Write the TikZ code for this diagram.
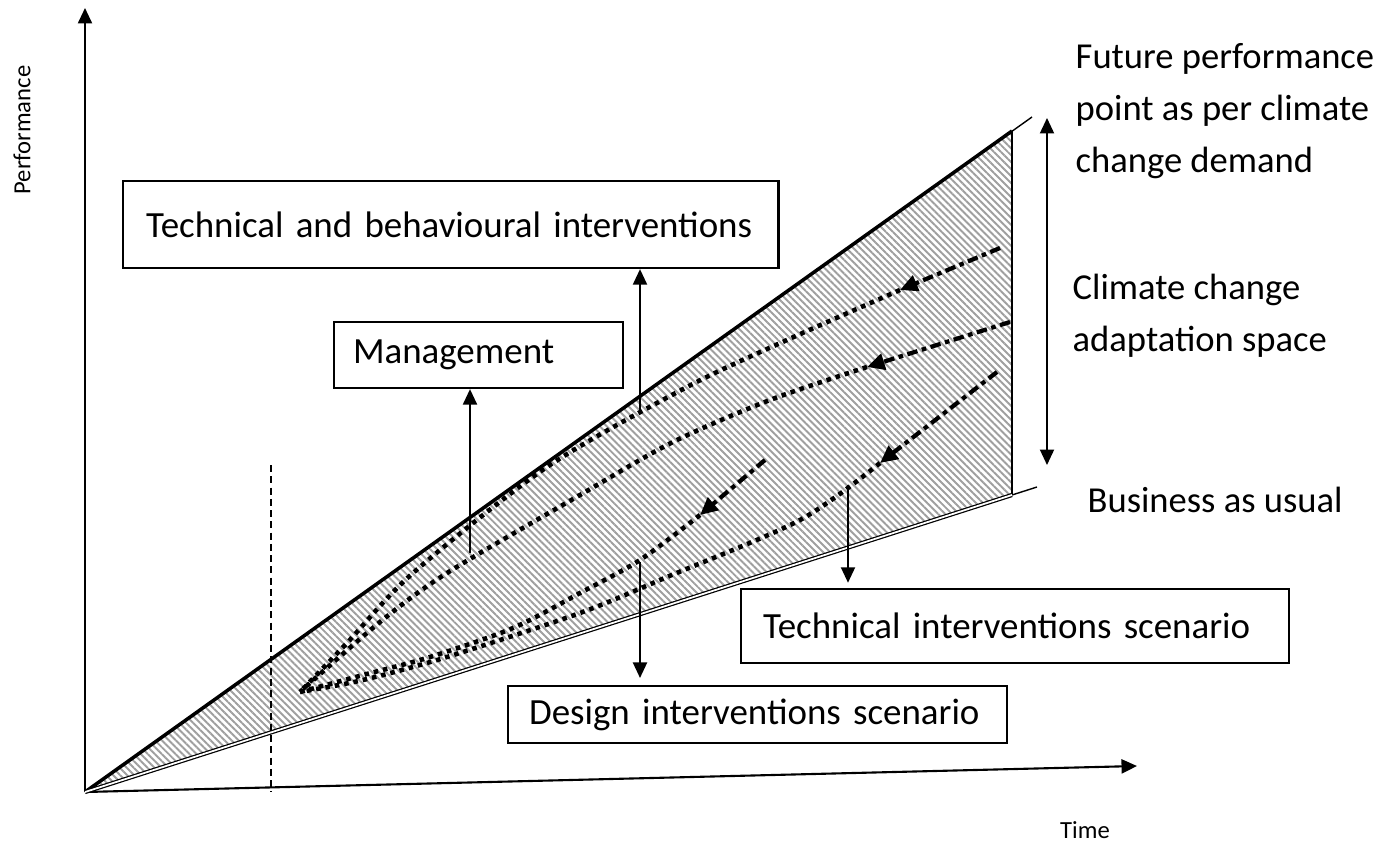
\documentclass[tikz,border=0pt]{standalone}
\usepackage{fontspec}
\setmainfont{Carlito}
\usetikzlibrary{arrows.meta,patterns.meta}

\begin{document}
\begin{tikzpicture}[x=0.01cm, y=-0.01cm, >={Triangle[length=4.4pt,width=4pt]},
  axis/.style={line width=0.6pt, ->},
  label/.style={font=\fontsize{10.4}{14.8}\selectfont, align=left, inner sep=0pt},
  small/.style={font=\fontsize{7}{8}\selectfont, inner sep=0pt},
  box/.style={draw, line width=0.6pt, anchor=north west, align=left, inner ysep=0pt, font=\fontsize{10.5}{12}\selectfont},
  pointer/.style={line width=0.5pt, ->},
  trail/.style={line width=1.3pt, dash pattern=on 1.3pt off 1.4pt},
  lead/.style={line width=1.2pt, dash pattern=on 3pt off 1.3pt on 1.3pt off 1.3pt, ->, >={Triangle[length=5pt,width=4.6pt]}},
]
\useasboundingbox (0,0) rectangle (1385,843);

% axes
\coordinate (o) at (85,792);
\coordinate (ytip) at (85,8);
\coordinate (xtip) at (1137,766);
\draw[axis] (o) -- (ytip);
\draw[axis] (o) -- (xtip);
\node[small, rotate=90] (perf) at (22,130) {Performance};
\node[small] (time) at (1085,830) {Time};

% adaptation space between the two pathways
\coordinate (ftop) at (1012,131);
\coordinate (fbot) at (1012,495);
\fill[pattern={Lines[angle=-45, distance=1.4pt, line width=0.55pt]}, pattern color=gray!75] (o) -- (ftop) -- (fbot) -- cycle;
\draw[line width=0.4pt] (o) -- (1032,117);
\draw[line width=1pt] (o) -- (ftop);
\draw[line width=0.5pt] (ftop) -- (fbot);
\draw[line width=0.4pt] (fbot) -- (1037,487);
\draw[double, line width=0.35pt, double distance=0.5pt] (o) -- (fbot);
\draw[line width=0.5pt, dash pattern=on 2pt off 1.2pt] (271,465) -- (271,792);

% range arrow and labels on the right
\coordinate (top) at (1047,118);
\coordinate (bau) at (1047,465);
\draw[pointer, <->] (top) -- (bau);
\node[label, anchor=west] (future) at (1075,111) {Future performance\\point as per climate\\change demand};
\node[label, anchor=west] (space) at (1072,316) {Climate change\\adaptation space};
\node[label, anchor=west] (usual) at (1087,500) {Business as usual};

% scenario pathways back to the hub
\coordinate (hub) at (300,692);
\coordinate (a1) at (1000,248); \coordinate (a2) at (900,290);
\coordinate (b1) at (1010,322); \coordinate (b2) at (867,367);
\coordinate (c1) at (765,460);  \coordinate (c2) at (700,515);
\coordinate (d1) at (997,372);  \coordinate (d2) at (880,463);
\draw[lead] (a1) -- (a2);
\draw[lead] (b1) -- (b2);
\draw[lead] (c1) -- (c2);
\draw[lead] (d1) -- (d2);
\draw[trail] plot[smooth] coordinates {(a2) (787,340) (687,387) (547,467) (413,573) (347,643) (hub)};
\draw[trail] plot[smooth] coordinates {(b2) (770,400) (673,442) (580,495) (447,573) (380,622) (hub)};
\draw[trail] plot[smooth] coordinates {(c2) (640,560) (580,593) (513,628) (430,657) (363,675) (hub)};
\draw[trail] plot[smooth] coordinates {(d2) (800,520) (667,577) (580,613) (447,657) (363,680) (hub)};

% boxes
\node[box, text width=6.09cm, inner xsep=0.23cm, minimum height=0.87cm] (tbbox) at (122,180) {Technical and behavioural interventions};
\node[box, text width=2.51cm, inner xsep=0.19cm, minimum height=0.66cm] (mgmt) at (333,321) {Management};
\node[box, text width=5.04cm, inner xsep=0.22cm, minimum height=0.74cm] (tech) at (740,588) {Technical interventions scenario};
\node[box, text width=4.57cm, inner xsep=0.21cm, minimum height=0.57cm] (design) at (507,685) {Design interventions scenario};

% pointers from the pathways to the boxes
\coordinate (m0) at (470,553);
\coordinate (t0) at (640,413);
\coordinate (g0) at (640,562);
\coordinate (s0) at (848,485);
\draw[pointer] (m0) -- (m0 |- mgmt.south);
\draw[pointer] (t0) -- (t0 |- tbbox.south);
\draw[pointer, shorten >=2pt] (g0) -- (g0 |- design.north);
\draw[pointer, shorten >=1.5pt] (s0) -- (s0 |- tech.north);
\end{tikzpicture}
\end{document}
